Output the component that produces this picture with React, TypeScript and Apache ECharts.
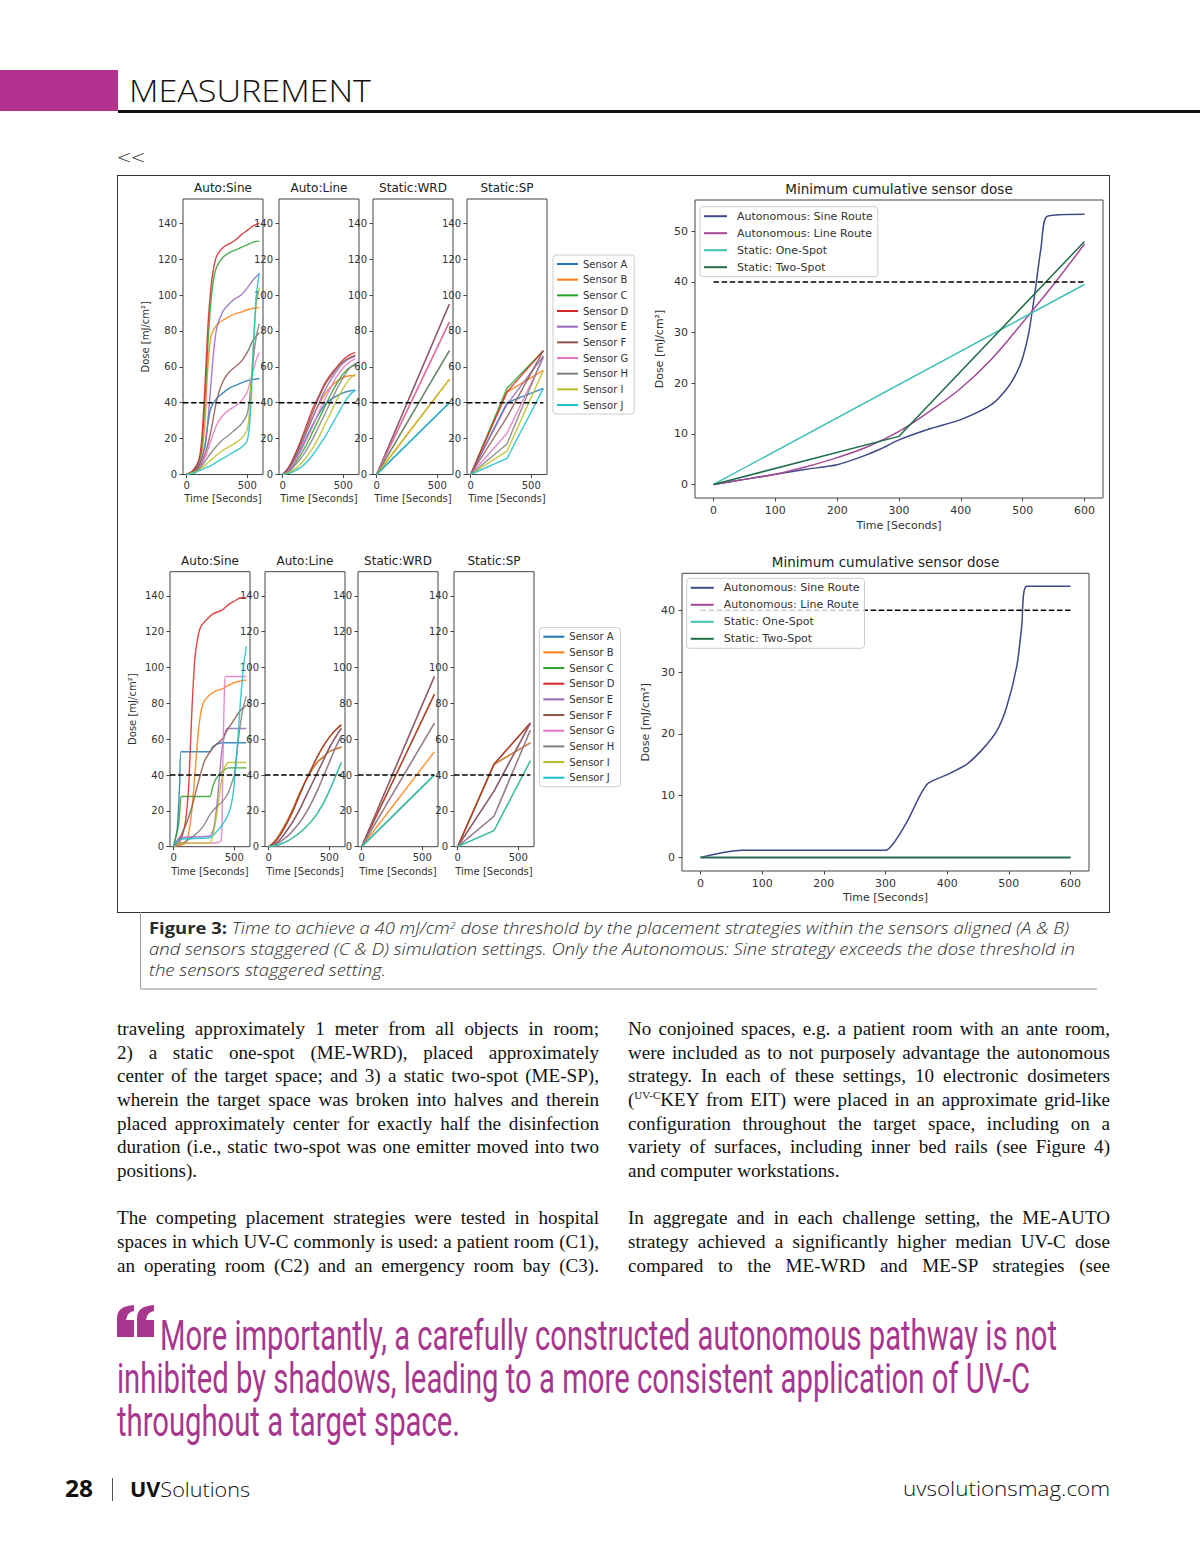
import React, { useEffect, useRef } from 'react';
import * as echarts from 'echarts';

// ---------------- DATA ----------------
const SENSORS = ['Sensor A', 'Sensor B', 'Sensor C', 'Sensor D', 'Sensor E', 'Sensor F', 'Sensor G', 'Sensor H', 'Sensor I', 'Sensor J'];
const SENSOR_COLORS = ['#1f77b4', '#ff7f0e', '#2ca02c', '#d62728', '#9467bd', '#8c564b', '#e377c2', '#7f7f7f', '#bcbd22', '#17becf'];
const PANEL_TITLES = ['Auto:Sine', 'Auto:Line', 'Static:WRD', 'Static:SP'];
const STRATEGIES = ['Autonomous: Sine Route', 'Autonomous: Line Route', 'Static: One-Spot', 'Static: Two-Spot'];
const STRATEGY_COLORS = ['#3f4889', '#a24a97', '#3fc0b6', '#1f6e47'];
const BIG_TITLE = 'Minimum cumulative sensor dose';
const Y_NAME = 'Dose [mJ/cm\u00b2]';
const X_NAME = 'Time [Seconds]';
const THRESHOLD = 40;

const SMALL_X_TICKS = [0, 500];
const SMALL_Y_TICKS = [0, 20, 40, 60, 80, 100, 120, 140];
const BIG_X_TICKS = [0, 100, 200, 300, 400, 500, 600];
const BIG_Y_TICKS_ALIGNED = [0, 10, 20, 30, 40, 50];
const BIG_Y_TICKS_STAGGERED = [0, 10, 20, 30, 40];

const T_LINE = [0, 50, 100, 150, 200, 250, 300, 350, 400, 450, 500, 550, 600];
const T_WRD = [0, 600];
const T_SP = [0, 300, 600];

// Sensors aligned (A) — Auto:Sine, [time, dose] per sensor A..J
const alignedAutoSine = [
  [[0, 0], [50, 1.5], [100, 5], [150, 16], [175, 28], [200, 37], [250, 42.5], [300, 45.5], [350, 48], [400, 49.5], [450, 51], [500, 52.3], [550, 53], [600, 53.5]],
  [[0, 0], [50, 2], [100, 6], [125, 12], [150, 28], [175, 60], [200, 77], [225, 81], [250, 83.5], [300, 86], [350, 88], [400, 89.5], [450, 90.5], [500, 91.8], [550, 92.6], [600, 93]],
  [[0, 0], [50, 2], [100, 7], [125, 16], [150, 40], [175, 72], [200, 96], [225, 110], [250, 116], [300, 121], [350, 123.5], [400, 125], [450, 126.5], [500, 128], [550, 129.5], [600, 130]],
  [[0, 0], [50, 2], [100, 8], [125, 20], [150, 48], [175, 82], [200, 104], [225, 116], [250, 122], [300, 126.5], [350, 128.5], [400, 130.5], [450, 133.5], [500, 136], [550, 138.5], [600, 140]],
  [[0, 0], [50, 1.5], [100, 5], [150, 15], [175, 30], [200, 50], [225, 70], [250, 82], [300, 91], [350, 95], [400, 98], [450, 100], [500, 104], [550, 108.5], [600, 112]],
  [[0, 0], [50, 1.5], [100, 4], [150, 11], [200, 24], [250, 42], [300, 52], [350, 57], [400, 60], [450, 63], [500, 68], [550, 75], [600, 79]],
  [[0, 0], [50, 1], [100, 3], [150, 9], [200, 19], [250, 28], [300, 33], [350, 36], [400, 38], [450, 41], [500, 46], [525, 52], [550, 58], [575, 64], [600, 68]],
  [[0, 0], [50, 1], [100, 3], [150, 7], [200, 12], [250, 16], [300, 19.5], [350, 22], [400, 25], [450, 28], [500, 34], [525, 46], [550, 64], [575, 77], [600, 84]],
  [[0, 0], [50, 1], [100, 2.5], [150, 5], [200, 8], [250, 11], [300, 13.5], [350, 15.5], [400, 17.5], [450, 20], [500, 25], [525, 42], [550, 72], [575, 95], [600, 104]],
  [[0, 0], [50, 0.5], [100, 2], [150, 3.5], [200, 5], [250, 7], [300, 9], [350, 11], [400, 13], [450, 15], [500, 19], [525, 33], [550, 70], [575, 100], [600, 112]],
];

// Sensors aligned — Auto:Line, doses at T_LINE
const alignedAutoLine = [
  [0, 3, 8, 14, 21, 28, 34, 39, 42, 44, 45.5, 46.5, 47],
  [0, 3, 9, 16, 24, 32, 39, 45, 49, 52, 54, 55, 55],
  [0, 2, 6, 11, 17, 24, 31, 38, 45, 51, 56, 59.5, 61],
  [0, 4, 11, 19, 28, 37, 44, 51, 56, 60, 64, 66.5, 68],
  [0, 3, 9, 16, 24, 32, 40, 47, 53, 58, 62, 64.5, 66],
  [0, 4, 10, 18, 26, 35, 43, 50, 55, 59.5, 63, 65, 66.5],
  [0, 2, 7, 13, 20, 27, 35, 42, 49, 55, 59.5, 62.5, 64.5],
  [0, 1.5, 5, 9, 14, 20, 27, 34, 41, 48, 54, 59, 62],
  [0, 1, 3, 6, 10, 15, 21, 28, 35, 42, 48, 53, 56],
  [0, 0.5, 2, 4, 7, 11, 16, 21, 27, 33, 39, 44, 47],
];

// Sensors aligned — Static:WRD, doses at T_WRD
const alignedWRD = [[0, 40], [0, 53], [0, 69], [0, 85], [0, 95], [0, 95], [0, 85], [0, 69], [0, 53], [0, 40]];
// Sensors aligned — Static:SP, doses at T_SP
const alignedSP = [[0, 40, 48], [0, 46, 58], [0, 48, 69], [0, 46, 69], [0, 39, 66], [0, 32, 69], [0, 23, 65], [0, 17, 66], [0, 13, 58], [0, 9, 48]];

// Sensors staggered (C) — Auto:Sine
const staggeredAutoSine = [
  [[0, 0], [30, 10], [50, 35], [62, 53], [300, 53], [320, 55.5], [350, 57], [400, 58], [600, 58]],
  [[0, 0], [100, 2], [125, 8], [150, 20], [175, 40], [200, 62], [225, 75], [250, 81], [300, 85], [350, 87], [400, 88], [450, 90], [500, 91.5], [550, 92.5], [600, 93]],
  [[0, 0], [40, 12], [55, 24], [65, 28], [300, 28], [320, 33], [350, 38], [400, 42], [450, 44], [600, 44]],
  [[0, 0], [50, 3], [75, 7], [100, 15], [125, 35], [150, 75], [175, 105], [200, 117], [225, 123], [275, 127], [325, 130], [400, 132], [450, 135], [500, 137], [550, 139], [600, 139]],
  [[0, 0], [50, 5], [300, 6], [330, 10], [360, 25], [385, 45], [400, 55], [420, 62], [440, 66], [600, 66]],
  [[0, 0], [50, 5], [100, 12], [150, 22], [200, 35], [250, 47], [300, 53], [350, 57], [400, 60], [450, 66], [500, 71], [550, 76], [600, 79]],
  [[0, 0], [50, 2], [300, 2], [390, 3], [400, 20], [410, 60], [420, 90], [430, 95], [600, 95]],
  [[0, 0], [100, 3], [200, 8], [250, 12], [300, 18], [350, 22], [400, 25], [450, 30], [500, 40], [525, 55], [550, 68], [575, 78], [600, 84]],
  [[0, 0], [50, 2], [300, 2], [330, 8], [360, 20], [390, 35], [420, 44], [450, 47], [600, 47]],
  [[0, 0], [50, 4], [300, 5], [350, 8], [400, 12], [450, 18], [480, 25], [500, 35], [525, 55], [550, 80], [575, 100], [600, 112]],
];

// Sensors staggered — Auto:Line, doses at T_LINE (pairs of sensors coincide)
const staggeredLineAB = [0, 3, 8, 14, 21, 29, 36, 42, 47, 50, 53, 54.5, 55.5];
const staggeredLineCD = [0, 2.5, 7, 13, 20, 28, 36, 43, 50, 56, 61, 65, 68];
const staggeredLineEF = [0, 1.5, 4.5, 9, 14, 20, 27, 34, 41, 48, 55, 61, 66];
const staggeredLineGH = [0, 1, 3, 5.5, 9, 13, 18, 24, 31, 39, 47, 55, 62];
const staggeredLineIJ = [0, 0.5, 1.5, 3, 5, 7.5, 10.5, 14, 18.5, 24, 31, 39, 47];
const staggeredAutoLine = [staggeredLineAB, staggeredLineAB, staggeredLineCD, staggeredLineCD, staggeredLineEF, staggeredLineEF, staggeredLineGH, staggeredLineGH, staggeredLineIJ, staggeredLineIJ];

const staggeredWRD = [[0, 40], [0, 53], [0, 85], [0, 85], [0, 95], [0, 95], [0, 69], [0, 69], [0, 40], [0, 40]];
const staggeredSP = [[0, 46, 58], [0, 46, 58], [0, 46, 69], [0, 46, 69], [0, 31, 69], [0, 31, 69], [0, 17, 65], [0, 17, 65], [0, 9, 48], [0, 9, 48]];

// Minimum cumulative sensor dose — aligned (B)
const minAlignedSine = [[0, 0], [50, 1], [100, 2], [150, 3], [200, 3.9], [240, 5.5], [270, 7], [300, 8.8], [350, 11], [400, 12.8], [450, 15.8], [475, 19], [490, 22], [500, 25], [510, 30], [520, 38], [530, 47], [540, 53], [600, 53.4]];
const minAlignedLine = [[0, 0], [50, 1], [100, 2], [150, 3.5], [200, 5.3], [250, 7.5], [300, 10.5], [350, 14.5], [400, 19], [450, 24.8], [500, 32], [550, 39.5], [600, 47.5]];
const minAlignedOneSpot = [[0, 0], [600, 39.5]];
const minAlignedTwoSpot = [[0, 0], [300, 9.5], [600, 48]];

// Minimum cumulative sensor dose — staggered (D)
const minStaggeredSine = [[0, 0], [67, 1.15], [300, 1.15], [313, 2.3], [335, 5.8], [367, 11.8], [400, 13.4], [432, 15.1], [459, 17.7], [480, 20.4], [496, 24.2], [513, 31], [521, 37.5], [529, 43.9], [600, 43.9]];
const minStaggeredLine = [[0, 0], [600, 0]];
const minStaggeredOneSpot = [[0, 0], [600, 0]];
const minStaggeredTwoSpot = [[0, 0], [600, 0]];

// ---------------- PAGE TEXT ----------------
const LEFT_COL = [
  'traveling approximately 1 meter from all objects in room;',
  '2) a static one-spot (ME-WRD), placed approximately',
  'center of the target space; and 3) a static two-spot (ME-SP),',
  'wherein the target space was broken into halves and therein',
  'placed approximately center for exactly half the disinfection',
  'duration (i.e., static two-spot was one emitter moved into two',
  'positions).',
  '',
  'The competing placement strategies were tested in hospital',
  'spaces in which UV-C commonly is used: a patient room (C1),',
  'an operating room (C2) and an emergency room bay (C3).',
];
const RIGHT_COL = [
  'No conjoined spaces, e.g. a patient room with an ante room,',
  'were included as to not purposely advantage the autonomous',
  'strategy. In each of these settings, 10 electronic dosimeters',
  '(^UV-C^KEY from EIT) were placed in an approximate grid-like',
  'configuration throughout the target space, including on a',
  'variety of surfaces, including inner bed rails (see Figure 4)',
  'and computer workstations.',
  '',
  'In aggregate and in each challenge setting, the ME-AUTO',
  'strategy achieved a significantly higher median UV-C dose',
  'compared to the ME-WRD and ME-SP strategies (see',
];
const LAST_LINES = [6];
const QUOTE_LINES = [
  'More importantly, a carefully constructed autonomous pathway is not',
  'inhibited by shadows, leading to a more consistent application of UV-C',
  'throughout a target space.',
];

// ---------------- CHART ----------------
const FONT = 'DejaVu Sans';
const SMALL_TOP_LEFT = [66, 162, 256, 350];
const SMALL_BOTTOM_LEFT = [53, 148, 241, 337];

function zip(t: number[], v: number[]) {
  return t.map((x, i) => [x, v[i]]);
}

function sensorSeries(idx: number, curves: number[][][], smooth: number | boolean) {
  return curves.map((pts, i) => ({
    type: 'line',
    name: SENSORS[i],
    xAxisIndex: idx,
    yAxisIndex: idx,
    data: pts,
    symbol: 'none',
    showSymbol: false,
    smooth,
    color: SENSOR_COLORS[i],
    lineStyle: { width: 1.4, color: SENSOR_COLORS[i], opacity: 0.85 },
    silent: true,
    z: 2,
  }));
}

function thresholdSeries(idx: number, from: number) {
  return {
    type: 'line',
    xAxisIndex: idx,
    yAxisIndex: idx,
    data: [[from, THRESHOLD], [600, THRESHOLD]],
    symbol: 'none',
    showSymbol: false,
    lineStyle: { color: '#000', width: 1.5, type: [5.5, 2.6] },
    silent: true,
    z: 3,
  };
}

function strategySeries(idx: number, curves: number[][][], smooth: number[]) {
  return curves.map((pts, i) => ({
    type: 'line',
    name: STRATEGIES[i],
    xAxisIndex: idx,
    yAxisIndex: idx,
    data: pts,
    symbol: 'none',
    showSymbol: false,
    smooth: smooth[i],
    color: STRATEGY_COLORS[i],
    lineStyle: { width: 1.5, color: STRATEGY_COLORS[i] },
    silent: true,
    z: 2,
  }));
}

function axis(idx: number, min: number, max: number, ticks: number[], fontSize: number, margin: number) {
  return {
    type: 'value',
    gridIndex: idx,
    min,
    max,
    axisLine: { show: false, onZero: false },
    axisTick: { show: true, inside: false, length: 3.5, lineStyle: { color: '#444', width: 1 }, customValues: ticks },
    axisLabel: { show: true, customValues: ticks, fontSize, color: '#333', fontFamily: FONT, margin },
    splitLine: { show: false },
    minorTick: { show: false },
    nameMoveOverlap: false,
  };
}

function buildOption() {
  const gridBase = { show: true, borderColor: '#444', borderWidth: 1, backgroundColor: 'transparent', containLabel: false, outerBoundsMode: 'none' };
  const grids = [
    ...SMALL_TOP_LEFT.map((l) => ({ ...gridBase, left: l, top: 24, width: 80, height: 275.5 })),
    { ...gridBase, left: 578, top: 25, width: 408, height: 298 },
    ...SMALL_BOTTOM_LEFT.map((l) => ({ ...gridBase, left: l, top: 396.7, width: 80, height: 275 })),
    { ...gridBase, left: 565, top: 398.3, width: 407, height: 297.7 },
  ];

  const nameStyle = (fs: number) => ({ fontSize: fs, color: '#333', fontFamily: FONT });
  const xAxes: any[] = [];
  const yAxes: any[] = [];
  for (let i = 0; i < 10; i++) {
    const big = i === 4 || i === 9;
    const top = i < 5;
    if (big) {
      xAxes.push({ ...axis(i, -30, 630, BIG_X_TICKS, 11, 7), name: X_NAME, nameLocation: 'middle', nameGap: top ? 22 : 21, nameTextStyle: nameStyle(11) });
      yAxes.push({
        ...axis(i, top ? -2.68 : -2.19, top ? 56.2 : 46.0, top ? BIG_Y_TICKS_ALIGNED : BIG_Y_TICKS_STAGGERED, 11, 7),
        name: Y_NAME, nameLocation: 'middle', nameGap: top ? 30 : 31, nameTextStyle: nameStyle(11),
      });
    } else {
      xAxes.push({ ...axis(i, -30, 630, SMALL_X_TICKS, 10, 6), name: X_NAME, nameLocation: 'middle', nameGap: top ? 19 : 20, nameTextStyle: nameStyle(10) });
      const y: any = axis(i, 0, 153.5, SMALL_Y_TICKS, 10, 6);
      if (i === 0 || i === 5) {
        y.name = Y_NAME;
        y.nameLocation = 'middle';
        y.nameGap = 33;
        y.nameTextStyle = nameStyle(10);
      }
      yAxes.push(y);
    }
  }

  const series: any[] = [
    ...sensorSeries(0, alignedAutoSine, 0.3),
    thresholdSeries(0, -30),
    ...sensorSeries(1, alignedAutoLine.map((v) => zip(T_LINE, v)), 0.35),
    thresholdSeries(1, -30),
    ...sensorSeries(2, alignedWRD.map((v) => zip(T_WRD, v)), false),
    thresholdSeries(2, -30),
    ...sensorSeries(3, alignedSP.map((v) => zip(T_SP, v)), false),
    thresholdSeries(3, -30),
    ...strategySeries(4, [minAlignedSine, minAlignedLine, minAlignedOneSpot, minAlignedTwoSpot], [0.25, 0.4, 0, 0]),
    thresholdSeries(4, 0),
    ...sensorSeries(5, staggeredAutoSine, 0.15),
    thresholdSeries(5, -30),
    ...sensorSeries(6, staggeredAutoLine.map((v) => zip(T_LINE, v)), 0.35),
    thresholdSeries(6, -30),
    ...sensorSeries(7, staggeredWRD.map((v) => zip(T_WRD, v)), false),
    thresholdSeries(7, -30),
    ...sensorSeries(8, staggeredSP.map((v) => zip(T_SP, v)), false),
    thresholdSeries(8, -30),
    ...strategySeries(9, [minStaggeredSine, minStaggeredLine, minStaggeredOneSpot, minStaggeredTwoSpot], [0.25, 0, 0, 0]),
    thresholdSeries(9, 0),
  ];

  const legendBase = {
    orient: 'vertical',
    icon: 'rect',
    itemHeight: 2,
    backgroundColor: 'rgba(255,255,255,0.8)',
    borderColor: '#cccccc',
    borderWidth: 1,
    borderRadius: 3,
    selectedMode: false,
    z: 10,
  };
  const sensorLegend = (left: number, top: number) => ({
    ...legendBase, data: SENSORS, left, top, itemWidth: 21, itemGap: 3.67, padding: [3, 6, 3, 4],
    textStyle: { fontSize: 10, lineHeight: 12, fontFamily: FONT, color: '#333' },
  });
  const strategyLegend = (left: number, top: number) => ({
    ...legendBase, data: STRATEGIES, left, top, itemWidth: 23, itemGap: 4, padding: [3, 5, 3, 4],
    textStyle: { fontSize: 11, lineHeight: 13, fontFamily: FONT, color: '#333', padding: [0, 0, 0, 5] },
  });

  const title = (x: number, y: number, text: string, fs: number) => ({
    type: 'text', x, y, silent: true,
    style: { text, fontSize: fs, fontFamily: FONT, fill: '#222', textAlign: 'center', textVerticalAlign: 'middle' },
  });

  return {
    animation: false,
    backgroundColor: 'transparent',
    grid: grids,
    xAxis: xAxes,
    yAxis: yAxes,
    legend: [sensorLegend(436, 80), strategyLegend(583, 31.7), sensorLegend(422.3, 452.7), strategyLegend(569.7, 403.3)],
    graphic: [
      ...PANEL_TITLES.map((t, i) => title(SMALL_TOP_LEFT[i] + 40, 13, t, 12)),
      ...PANEL_TITLES.map((t, i) => title(SMALL_BOTTOM_LEFT[i] + 40, 386, t, 12)),
      title(782, 14, BIG_TITLE, 13.5),
      title(768.5, 386.7, BIG_TITLE, 13.5),
    ],
    series,
  };
}

// ---------------- PAGE ----------------
const MAGENTA = '#b3318f';
const QUOTE_COLOR = '#a7368f';
const SERIF = "'Liberation Serif', 'Times New Roman', serif";
const SANS = "'Open Sans', 'Noto Sans', sans-serif";
const QUOTE_FONT = "Roboto, 'Noto Sans', sans-serif";
const QUOTE_SY = 1.5;

function BodyLine({ text, left, top, last }: { text: string; left: number; top: number; last: boolean }) {
  let content: React.ReactNode = text;
  if (text.includes('^')) {
    const parts = text.split('^');
    content = (
      <>
        {parts[0]}
        <span style={{ fontSize: 11, position: 'relative', top: -7 }}>{parts[1]}</span>
        {parts[2]}
      </>
    );
  }
  return (
    <div
      style={{
        position: 'absolute', left, top, width: 482, height: 24, fontFamily: SERIF, fontSize: 19.1, lineHeight: '24px',
        color: '#111', textAlign: last ? 'left' : 'justify', textAlignLast: last ? 'left' : 'justify', whiteSpace: 'normal',
      }}
    >
      {content}
    </div>
  );
}

export default function App() {
  const ref = useRef<HTMLDivElement>(null);
  useEffect(() => {
    const chart = echarts.init(ref.current as HTMLDivElement, null, { renderer: 'svg' });
    chart.setOption(buildOption() as any);
    return () => chart.dispose();
  }, []);

  const lineTop = (i: number) => 1017 + i * 23.65;

  return (
    <div style={{ position: 'absolute', left: 0, top: 0, width: 1200, height: 1545, background: '#fff', overflow: 'hidden' }}>
      {/* header */}
      <div style={{ position: 'absolute', left: 0, top: 70, width: 118, height: 41, background: MAGENTA }} />
      <div style={{ position: 'absolute', left: 118, top: 110, width: 1082, height: 2.5, background: '#111' }} />
      <svg style={{ position: 'absolute', left: 0, top: 0 }} width={1200} height={200}>
        <text x={129} y={102} textLength={242} lengthAdjust="spacingAndGlyphs" fontFamily={SANS} fontWeight={300} fontSize={31} fill="#111">MEASUREMENT</text>
        <text x={117} y={165} textLength={28} lengthAdjust="spacingAndGlyphs" fontFamily={SANS} fontWeight={300} fontSize={21} fill="#222">{'<<'}</text>
      </svg>

      {/* figure */}
      <div ref={ref} style={{ position: 'absolute', left: 117, top: 175, width: 993, height: 737 }} />
      <div style={{ position: 'absolute', left: 117, top: 175, width: 993, height: 738, border: '1.5px solid #333', boxSizing: 'border-box', pointerEvents: 'none' }} />

      {/* caption */}
      <div style={{ position: 'absolute', left: 140, top: 912, width: 1, height: 78, background: '#999' }} />
      <div style={{ position: 'absolute', left: 140, top: 988, width: 957, height: 2, background: '#c9c9c9' }} />
      <svg style={{ position: 'absolute', left: 0, top: 900 }} width={1200} height={100}>
        <text x={149} y={34} textLength={920} lengthAdjust="spacingAndGlyphs" fontFamily={SANS} fontSize={15.5} fill="#2a2a2a">
          <tspan fontWeight={700}>Figure 3: </tspan>
          <tspan fontStyle="italic" fontWeight={300}>Time to achieve a 40 mJ/cm</tspan>
          <tspan fontStyle="italic" fontWeight={300} fontSize={9} dy={-5}>2</tspan>
          <tspan fontStyle="italic" fontWeight={300} dy={5}> dose threshold by the placement strategies within the sensors aligned (A &amp; B)</tspan>
        </text>
        <text x={149} y={55} textLength={926} lengthAdjust="spacingAndGlyphs" fontFamily={SANS} fontSize={15.5} fontStyle="italic" fontWeight={300} fill="#2a2a2a">
          and sensors staggered (C &amp; D) simulation settings. Only the Autonomous: Sine strategy exceeds the dose threshold in
        </text>
        <text x={149} y={76} textLength={237} lengthAdjust="spacingAndGlyphs" fontFamily={SANS} fontSize={15.5} fontStyle="italic" fontWeight={300} fill="#2a2a2a">
          the sensors staggered setting.
        </text>
      </svg>

      {/* body text */}
      {LEFT_COL.map((t, i) => (t ? <BodyLine key={'l' + i} text={t} left={117} top={lineTop(i)} last={LAST_LINES.includes(i)} /> : null))}
      {RIGHT_COL.map((t, i) => (t ? <BodyLine key={'r' + i} text={t} left={628} top={lineTop(i)} last={LAST_LINES.includes(i)} /> : null))}

      {/* pull quote */}
      <svg style={{ position: 'absolute', left: 0, top: 1290 }} width={1200} height={170}>
        <path d="M117,47 L117,28 Q117,16 134,15 L134,21 Q127,22 126,30 L134,30 L134,47 Z" fill={QUOTE_COLOR} />
        <path d="M137,47 L137,28 Q137,16 154,15 L154,21 Q147,22 146,30 L154,30 L154,47 Z" fill={QUOTE_COLOR} />
        <g transform={`scale(1, ${QUOTE_SY})`}>
          <text x={160} y={60 / QUOTE_SY} textLength={897} lengthAdjust="spacingAndGlyphs" fontFamily={QUOTE_FONT} fontWeight={400} fontSize={28} fill={QUOTE_COLOR}>{QUOTE_LINES[0]}</text>
          <text x={117} y={103 / QUOTE_SY} textLength={913} lengthAdjust="spacingAndGlyphs" fontFamily={QUOTE_FONT} fontWeight={400} fontSize={28} fill={QUOTE_COLOR}>{QUOTE_LINES[1]}</text>
          <text x={117} y={146 / QUOTE_SY} textLength={343} lengthAdjust="spacingAndGlyphs" fontFamily={QUOTE_FONT} fontWeight={400} fontSize={28} fill={QUOTE_COLOR}>{QUOTE_LINES[2]}</text>
        </g>
      </svg>

      {/* footer */}
      <svg style={{ position: 'absolute', left: 0, top: 1460 }} width={1200} height={60}>
        <text x={65} y={37} textLength={28} lengthAdjust="spacingAndGlyphs" fontFamily={SANS} fontWeight={700} fontSize={23} fill="#111">28</text>
        <rect x={112} y={18} width={1} height={23} fill="#555" />
        <text x={130} y={37} textLength={120} lengthAdjust="spacingAndGlyphs" fontFamily={SANS} fontSize={21} fill="#111">
          <tspan fontWeight={700}>UV</tspan>
          <tspan fontWeight={300}>Solutions</tspan>
        </text>
        <text x={903} y={36} textLength={207} lengthAdjust="spacingAndGlyphs" fontFamily={SANS} fontWeight={300} fontSize={20} fill="#111">uvsolutionsmag.com</text>
      </svg>
    </div>
  );
}
